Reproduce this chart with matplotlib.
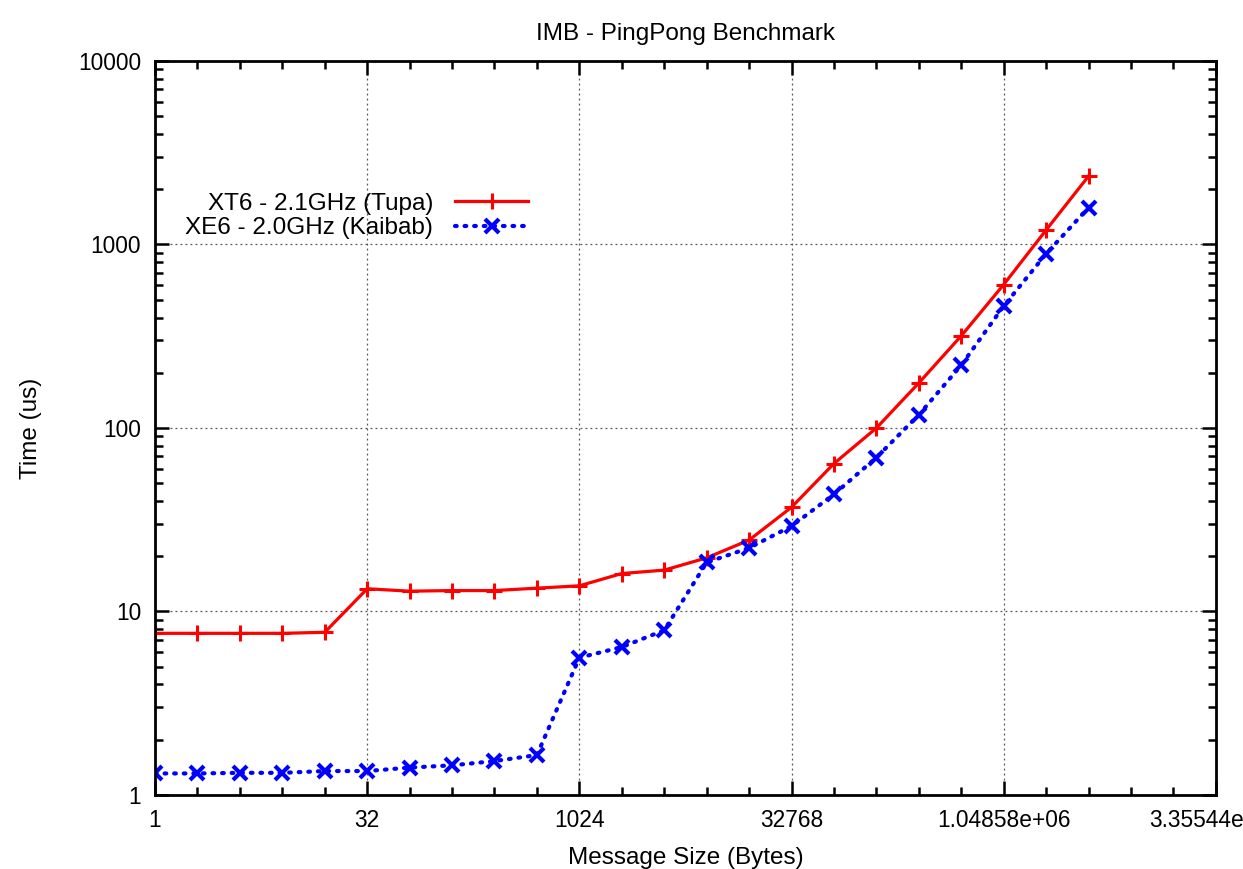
import numpy as np
import matplotlib.pyplot as plt
from matplotlib.ticker import FixedLocator, FixedFormatter, LogLocator, NullFormatter

plt.rcParams['font.family'] = ['Liberation Sans', 'DejaVu Sans']

# message sizes 2^0 .. 2^22 bytes
msg_size = [2 ** k for k in range(23)]

# XT6 - 2.1GHz (Tupa)
xt6_time = [7.6, 7.6, 7.6, 7.6, 7.7, 13.3, 12.9, 13.0, 13.0, 13.4, 13.8,
            16.1, 16.8, 19.6, 24.5, 37.0, 64.0, 100.0, 176.0, 318.0,
            605.0, 1200.0, 2360.0]

# XE6 - 2.0GHz (Kaibab)
xe6_time = [1.31, 1.31, 1.32, 1.32, 1.35, 1.35, 1.41, 1.45, 1.53, 1.65,
            5.6, 6.4, 7.9, 18.5, 22.2, 29.2, 43.5, 69.0, 118.0, 220.0,
            462.0, 890.0, 1590.0]

xtick_vals = [1, 32, 1024, 32768, 1048576, 33554432]
xtick_labels = ['1', '32', '1024', '32768', '1.04858e+06', '3.35544e+07']
ytick_vals = [1, 10, 100, 1000, 10000]
ytick_labels = ['1', '10', '100', '1000', '10000']

fig = plt.figure(figsize=(12.43, 8.69), dpi=100)
ax = fig.add_axes([0.1247, 0.0852, 0.8535, 0.8446])

ax.plot(msg_size, xt6_time, color='#ff0000', linestyle='-', linewidth=2.3,
        marker='+', markersize=11, markeredgewidth=2.2,
        label='XT6 - 2.1GHz (Tupa)')
ax.plot(msg_size, xe6_time, color='#0000ff', linestyle=(0, (0.4, 1.9)), linewidth=3,
        dash_capstyle='round', marker='x', markersize=10, markeredgewidth=3,
        label='XE6 - 2.0GHz (Kaibab)')

ax.set_xscale('log', base=2)
ax.set_yscale('log')
ax.set_xlim(1, 2 ** 25)
ax.set_ylim(1, 10000)

ax.xaxis.set_major_locator(FixedLocator(xtick_vals))
ax.xaxis.set_major_formatter(FixedFormatter(xtick_labels))
ax.xaxis.set_minor_locator(FixedLocator([2 ** k for k in range(26)]))
ax.xaxis.set_minor_formatter(NullFormatter())
ax.yaxis.set_major_locator(FixedLocator(ytick_vals))
ax.yaxis.set_major_formatter(FixedFormatter(ytick_labels))
ax.yaxis.set_minor_locator(LogLocator(base=10, subs=np.arange(2, 10)))
ax.yaxis.set_minor_formatter(NullFormatter())

ax.tick_params(which='both', direction='in', top=True, right=True, width=1.8,
               labelsize=16.4, pad=10)
ax.tick_params(which='major', length=10)
ax.tick_params(which='minor', length=6)
for s in ax.spines.values():
    s.set_linewidth(2)

ax.grid(True, which='major', color='#555555', linestyle=(0, (1.5, 2.5)), linewidth=0.9)

ax.set_title('IMB - PingPong Benchmark', fontsize=17.5, pad=15)
ax.set_xlabel('Message Size (Bytes)', fontsize=17.5, labelpad=11)
ax.set_ylabel('Time (us)', fontsize=17.5, labelpad=26)

ax.legend(loc='upper left', bbox_to_anchor=(0.008, 0.85), frameon=False,
          markerfirst=False, fontsize=17.5, handlelength=3.0, labelspacing=0.1,
          handletextpad=0.9)

fig.savefig('out.png', dpi=100)
